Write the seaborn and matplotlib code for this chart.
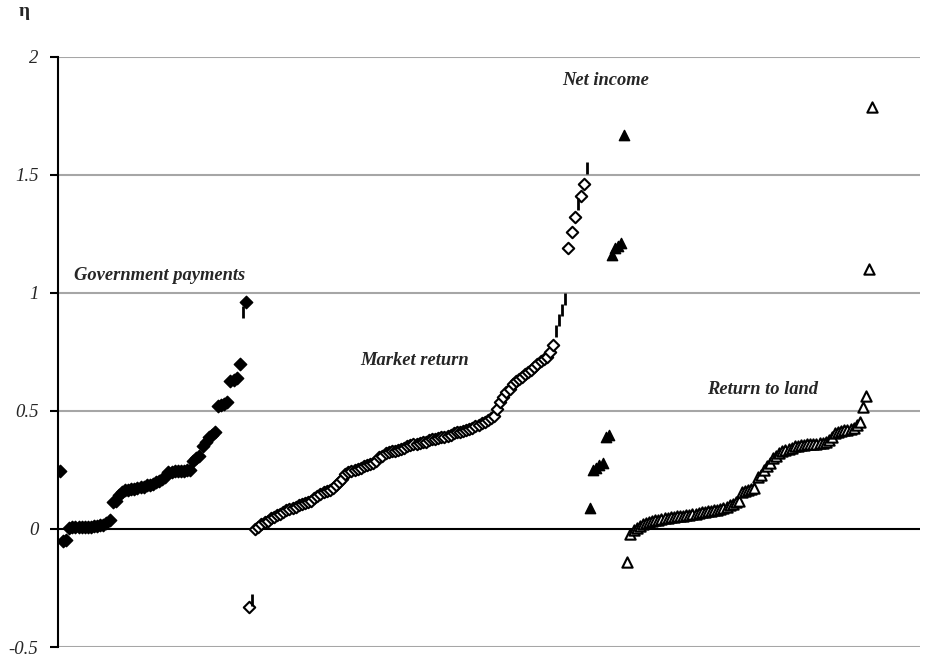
import numpy as np
import pandas as pd
import seaborn as sns
import matplotlib.pyplot as plt

# sorted elasticities (eta) by component
gov_payments = [0.245, -0.05, -0.045, 0.005, 0.01, 0.01, 0.01, 0.01, 0.01, 0.01,
                0.01, 0.012, 0.012, 0.015, 0.018, 0.025, 0.04, 0.115, 0.12, 0.145,
                0.155, 0.165, 0.165, 0.17, 0.17, 0.175, 0.18, 0.18, 0.185, 0.185,
                0.19, 0.20, 0.205, 0.21, 0.22, 0.24, 0.24, 0.245, 0.245, 0.245,
                0.245, 0.25, 0.25, 0.29, 0.30, 0.31, 0.35, 0.37, 0.39, 0.40,
                0.41, 0.52, 0.525, 0.53, 0.54, 0.625, 0.63, 0.64, 0.70, 0.92,
                0.96]
market_return = [-0.33, -0.30, 0.0, 0.01, 0.02, 0.03, 0.035, 0.045, 0.05, 0.06,
                 0.065, 0.07, 0.08, 0.085, 0.09, 0.095, 0.10, 0.105, 0.11, 0.115,
                 0.12, 0.13, 0.14, 0.15, 0.155, 0.16, 0.165, 0.175, 0.185, 0.20,
                 0.21, 0.235, 0.24, 0.245, 0.25, 0.255, 0.26, 0.265, 0.27, 0.275,
                 0.28, 0.29, 0.305, 0.31, 0.32, 0.325, 0.33, 0.33, 0.335, 0.34,
                 0.345, 0.35, 0.355, 0.36, 0.36, 0.365, 0.37, 0.37, 0.375, 0.38,
                 0.38, 0.385, 0.39, 0.39, 0.395, 0.40, 0.405, 0.41, 0.41, 0.415,
                 0.42, 0.425, 0.43, 0.435, 0.44, 0.45, 0.455, 0.46, 0.47, 0.48,
                 0.51, 0.54, 0.56, 0.58, 0.595, 0.615, 0.625, 0.635, 0.645, 0.655,
                 0.665, 0.675, 0.685, 0.70, 0.71, 0.72, 0.73, 0.75, 0.78, 0.84,
                 0.885, 0.93, 0.975, 1.19, 1.26, 1.32, 1.375, 1.41, 1.46, 1.53]
net_income = [0.09, 0.25, 0.26, 0.27, 0.28, 0.39, 0.40, 1.16, 1.19, 1.20, 1.21, 1.67]
return_to_land = [-0.14, -0.02, -0.005, 0.005, 0.012, 0.02, 0.025, 0.03, 0.034, 0.037,
                  0.04, 0.044, 0.046, 0.048, 0.05, 0.052, 0.054, 0.055, 0.056, 0.058,
                  0.06, 0.062, 0.065, 0.068, 0.07, 0.072, 0.075, 0.078, 0.08, 0.08,
                  0.085, 0.09, 0.095, 0.10, 0.105, 0.115, 0.12, 0.155, 0.16, 0.165,
                  0.17, 0.175, 0.22, 0.23, 0.25, 0.265, 0.28, 0.30, 0.31, 0.32,
                  0.33, 0.335, 0.34, 0.345, 0.35, 0.35, 0.355, 0.355, 0.36, 0.36,
                  0.36, 0.36, 0.365, 0.365, 0.37, 0.375, 0.39, 0.405, 0.41, 0.415,
                  0.42, 0.42, 0.425, 0.43, 0.44, 0.455, 0.515, 0.565, 1.10, 1.79]

# points that show up as a short dash instead of a marker
gov_dash_at = [59]
market_dash_at = [1, 99, 100, 101, 102, 106, 109]

series_names = ['Government payments', 'Market return', 'Net income', 'Return to land']
y_ticks = [-0.5, 0, 0.5, 1, 1.5, 2]
y_tick_labels = ['-0.5', '0', '0.5', '1', '1.5', '2']

frames = []
start = 0
for name, vals, dashes in zip(series_names,
                              [gov_payments, market_return, net_income, return_to_land],
                              [gov_dash_at, market_dash_at, [], []]):
    kind = ['dash' if i in dashes else 'mark' for i in range(len(vals))]
    frames.append(pd.DataFrame({'rank': np.arange(start, start + len(vals)),
                                'eta': vals, 'series': name, 'kind': kind}))
    start += len(vals)
df = pd.concat(frames, ignore_index=True)

sns.set_style('white')
plt.rcParams['font.family'] = ['Liberation Serif', 'DejaVu Serif']

fig = plt.figure(figsize=(9.29, 6.64), dpi=100)
ax = fig.add_axes([0.0624, 0.0256, 0.9279, 0.8886])

for y in y_ticks:
    if y != 0:
        ax.axhline(y, color='#a6a6a6', lw=1.5, zorder=0)
ax.axhline(0, color='black', lw=1.5, zorder=1)

styles = {
    'Government payments': dict(marker='D', color='black', edgecolor='black', s=40, linewidth=1),
    'Market return': dict(marker='D', color='white', edgecolor='black', s=34, linewidth=1.5),
    'Net income': dict(marker='^', color='black', edgecolor='black', s=55, linewidth=1),
    'Return to land': dict(marker='^', color='white', edgecolor='black', s=55, linewidth=1.5),
}
for name in series_names:
    sub = df[(df['series'] == name) & (df['kind'] == 'mark')]
    sns.scatterplot(data=sub, x='rank', y='eta', ax=ax, legend=False, zorder=3, **styles[name])
dash = df[df['kind'] == 'dash']
sns.scatterplot(data=dash, x='rank', y='eta', ax=ax, legend=False, marker='|',
                color='black', s=70, linewidth=2, zorder=3)

txt = dict(fontsize=13.3, fontweight='bold', fontstyle='italic', ha='center', va='center')
ax.text(32.3, 1.075, 'Government payments', **txt)
ax.text(114.5, 0.715, 'Market return', **txt)
ax.text(176, 1.90, 'Net income', **txt)
ax.text(226.5, 0.59, 'Return to land', **txt)

ax.set_xlim(-0.65, 277.4)
ax.set_ylim(-0.5, 2)
ax.set_yticks(y_ticks)
ax.set_yticklabels(y_tick_labels, fontstyle='italic', fontsize=13.5)
ax.tick_params(axis='y', direction='out', length=6, width=1.5, color='black', pad=8, left=True)
ax.set_xticks([])
ax.set_xlabel('')
ax.set_ylabel('')
for side in ['top', 'right', 'bottom']:
    ax.spines[side].set_visible(False)
ax.spines['left'].set_color('black')
ax.spines['left'].set_linewidth(1.5)

fig.text(24 / 929, 1 - 12 / 664, 'η', fontsize=14, fontweight='bold', ha='center', va='center')

fig.savefig('out.png', dpi=100)
